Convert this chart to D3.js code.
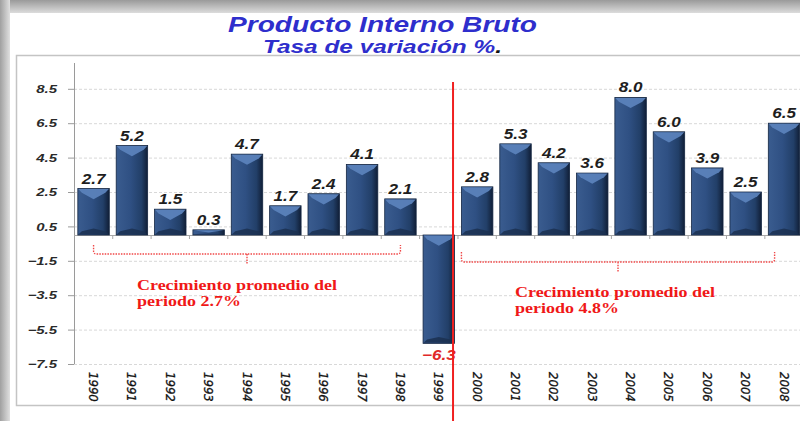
<!DOCTYPE html>
<html><head><meta charset="utf-8">
<script src="https://cdn.jsdelivr.net/npm/d3@7"></script>
<style>html,body{margin:0;padding:0;background:#fff;overflow:hidden}</style>
</head><body>
<svg id="c" width="800" height="421"></svg>
<script>
const years = ["1990","1991","1992","1993","1994","1995","1996","1997","1998","1999","2000","2001","2002","2003","2004","2005","2006","2007","2008"];
const values = [2.7,5.2,1.5,0.3,4.7,1.7,2.4,4.1,2.1,-6.3,2.8,5.3,4.2,3.6,8.0,6.0,3.9,2.5,6.5];
const yTicks = [8.5,6.5,4.5,2.5,0.5,-1.5,-3.5,-5.5,-7.5];
const title1 = "Producto Interno Bruto";
const title2 = "Tasa de variación %";
const note1 = ["Crecimiento promedio del","periodo 2.7%"];
const note2 = ["Crecimiento promedio del","periodo 4.8%"];
const period1 = ["1990","1998"];
const period2 = ["2000","2008"];

const svg = d3.select("#c");
const defs = svg.append("defs");
const SANS = "Arial, 'Liberation Sans', sans-serif";
function stretch(sel, f){
  sel.each(function(){
    const n = this; const L = n.getComputedTextLength();
    d3.select(n).attr("textLength", L*f).attr("lengthAdjust","spacingAndGlyphs");
  });
}
const gTop = defs.append("linearGradient").attr("id","gt").attr("x1",0).attr("y1",0).attr("x2",0).attr("y2",1);
gTop.append("stop").attr("offset","0%").attr("stop-color","#9a9a9a");
gTop.append("stop").attr("offset","100%").attr("stop-color","#dcdcdc");
const gLeft = defs.append("linearGradient").attr("id","gl").attr("x1",0).attr("y1",0).attr("x2",1).attr("y2",0);
gLeft.append("stop").attr("offset","0%").attr("stop-color","#a0a0a0");
gLeft.append("stop").attr("offset","100%").attr("stop-color","#e0e0e0");
const gBar = defs.append("linearGradient").attr("id","gb").attr("x1",0).attr("y1",0).attr("x2",1).attr("y2",0);
[["0%","#3a5c8f"],["45%","#2f5083"],["80%","#223f68"],["100%","#101e36"]].forEach(s=>gBar.append("stop").attr("offset",s[0]).attr("stop-color",s[1]));

svg.append("rect").attr("x",0).attr("y",0).attr("width",800).attr("height",13).attr("fill","url(#gt)");
svg.append("rect").attr("x",0).attr("y",0).attr("width",10).attr("height",421).attr("fill","url(#gl)");
svg.append("rect").attr("x",10).attr("y",13).attr("width",790).attr("height",408).attr("fill","#fff");
svg.append("path").attr("d","M800,55.5H16.5V405.5H800").attr("fill","none").attr("stroke","#c4c4c4").attr("stroke-width",1.5);

// titles
svg.append("text").attr("x",382.5).attr("y",32).attr("text-anchor","middle")
  .attr("font-family",SANS).attr("font-weight","bold").attr("font-style","italic")
  .attr("font-size",22).attr("fill","#2e2ecc").text(title1)
  .attr("textLength",309).attr("lengthAdjust","spacingAndGlyphs");
const t2 = svg.append("text").attr("x",382.5).attr("y",53).attr("text-anchor","middle")
  .attr("font-family",SANS).attr("font-weight","bold").attr("font-style","italic")
  .attr("font-size",19).attr("fill","#2e2ecc")
  .attr("textLength",239).attr("lengthAdjust","spacingAndGlyphs");
t2.append("tspan").text(title2);
t2.append("tspan").attr("fill","#111").text(".");

const x = d3.scaleBand().domain(years).range([74, 803.6]).paddingInner(0.18).paddingOuter(0.1);
const y = d3.scaleLinear().domain([-7.5, 10]).range([364, 63]);
const bw = x.bandwidth();

// gridlines
svg.append("g").selectAll("line").data(yTicks).join("line")
  .attr("x1",74).attr("x2",800).attr("y1",d=>y(d)+0.5).attr("y2",d=>y(d)+0.5)
  .attr("stroke","#d8d8d8").attr("stroke-dasharray","3,2");

// y axis
const ya = svg.append("g").attr("transform","translate(74,0)")
  .call(d3.axisLeft(y).tickValues(yTicks).tickFormat(d3.format(".1f")).tickSize(6).tickPadding(17));
ya.select(".domain").attr("stroke","#9a9a9a").attr("d","M0.5,"+y(10)+"V"+y(-7.5));
ya.selectAll(".tick line").attr("stroke","#9a9a9a");
ya.selectAll("text").attr("font-family",SANS).attr("font-weight","bold")
  .attr("font-style","italic").attr("font-size",11.5).attr("fill","#2a2a2a")
  .attr("text-anchor","start")
  .each(function(){
    const L = this.getComputedTextLength()*1.3;
    d3.select(this).attr("x", -17 - L).attr("textLength", L).attr("lengthAdjust","spacingAndGlyphs");
  });

// x baseline with ticks
const xa = svg.append("g").attr("transform","translate(0,"+Math.round(y(0))+")");
xa.append("line").attr("x1",74).attr("x2",800).attr("y1",0.5).attr("y2",0.5).attr("stroke","#a8a8a8");
xa.selectAll("line.tk").data(years.slice(1)).join("line").attr("class","tk")
  .attr("x1",d=>x(d)-x.step()*x.paddingInner()/2).attr("x2",d=>x(d)-x.step()*x.paddingInner()/2)
  .attr("y1",0).attr("y2",4).attr("stroke","#a8a8a8");

// bars
const bars = svg.append("g").selectAll("g").data(years.map((k,i)=>({k,v:values[i]}))).join("g");
bars.each(function(d){
  const g = d3.select(this);
  const x0 = x(d.k), x1 = x0+bw, xc = x0+bw/2;
  const top = y(Math.max(0,d.v)), bot = y(Math.min(0,d.v));
  const h = bot-top;
  g.append("rect").attr("x",x0).attr("y",top).attr("width",bw).attr("height",h).attr("fill","url(#gb)")
    .attr("stroke","#142642").attr("stroke-width",0.8);
  const c = Math.min(bw*0.34, h/2);
  if (h>2){
    g.append("path").attr("d",`M${x0+0.5},${top+0.5}L${x1-0.5},${top+0.5}L${x1-4},${top+c*0.4}L${xc},${top+c}L${x0+4},${top+c*0.4}Z`)
      .attr("fill","#5b82bb").attr("opacity",0.95);
    g.append("path").attr("d",`M${x0+0.5},${bot-0.5}L${x1-0.5},${bot-0.5}L${x1-4},${bot-c*0.35}L${xc},${bot-c*0.6}L${x0+4},${bot-c*0.35}Z`)
      .attr("fill","#1b3050").attr("opacity",0.85);
  }
});

// value labels
const vl = svg.append("g").selectAll("text").data(years.map((k,i)=>({k,v:values[i]}))).join("text")
  .attr("x",d=>x(d.k)+bw/2).attr("y",d=>d.v>=0 ? y(d.v)-5 : y(d.v)+17)
  .attr("text-anchor","middle").attr("font-family",SANS)
  .attr("font-weight","bold").attr("font-style","italic").attr("font-size",14)
  .attr("fill",d=>d.v<0?"#e02828":"#1e1e1e").text(d=>d3.format(".1f")(d.v));
stretch(vl, 1.22);

// category labels (rotated)
svg.append("g").selectAll("text").data(years).join("text")
  .attr("transform",d=>`translate(${x(d)+bw/2-4.5},372) rotate(90)`)
  .attr("font-family","'Liberation Sans Narrow','Arial Narrow', 'DejaVu Sans Condensed', sans-serif")
  .attr("font-style","italic").attr("font-size",13).attr("fill","#111")
  .attr("stroke","#111").attr("stroke-width",0.3).text(d=>d);

// red divider
const divX = x("1999")+bw-1.5;
svg.append("line").attr("x1",divX).attr("x2",divX).attr("y1",y(8.9)).attr("y2",421).attr("stroke","#f02020").attr("stroke-width",2);

// brackets
function bracket(xa, xb, yEnd, yMid, yTick){
  const xm=(xa+xb)/2, r=3;
  svg.append("path").attr("d",`M${xa},${yEnd}V${yMid-r}Q${xa},${yMid} ${xa+r},${yMid}H${xb-r}Q${xb},${yMid} ${xb},${yMid-r}V${yEnd}M${xm},${yMid}V${yTick}`)
    .attr("fill","none").attr("stroke","#f04848").attr("stroke-width",1.4).attr("stroke-dasharray","1.5,1.2");
}
bracket(x(period1[0])+bw/2, x(period1[1])+bw/2, 245, 254, 264);
bracket(x(period2[0]), x(period2[1])+bw*0.2, 252, 262, 272);

function note(lines, x0, yb){
  const t = svg.append("text").attr("font-family","'Liberation Serif','Times New Roman',serif").attr("font-weight","bold")
    .attr("font-size",15.5).attr("fill","#f01818");
  const sp = lines.map((l,i)=>t.append("tspan").attr("x",x0).attr("y",yb+i*16).text(l));
  sp.forEach(s=>{ const L=s.node().getComputedTextLength(); s.attr("textLength",L*1.16).attr("lengthAdjust","spacingAndGlyphs"); });
}
note(note1, 137, 290);
note(note2, 515, 297);
</script>
</body></html>
